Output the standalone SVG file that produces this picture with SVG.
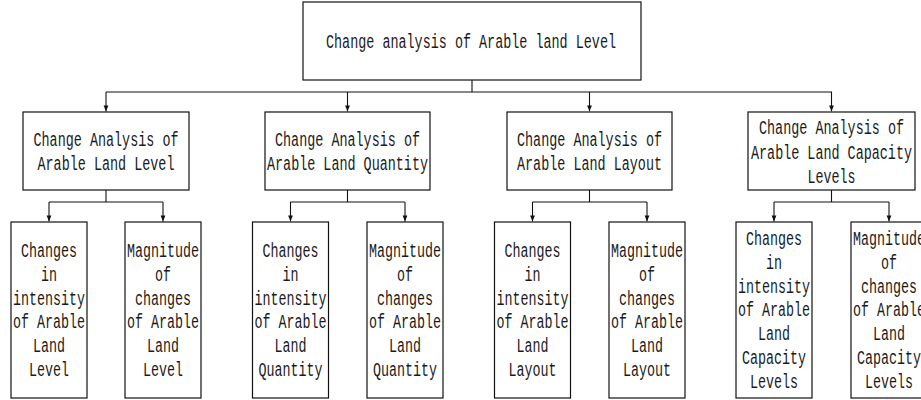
<svg xmlns="http://www.w3.org/2000/svg" width="921" height="400" viewBox="0 0 921 400">
<style>
.box{fill:#fff;stroke:#111;stroke-width:1.2}
.t{font-family:"Liberation Mono",monospace;font-size:20px;fill:#1a1a1a;text-anchor:middle}
.c{fill:none;stroke:#111;stroke-width:1.1}
.a{marker-end:url(#ah)}
</style>
<defs>
<marker id="ah" markerUnits="userSpaceOnUse" markerWidth="6" markerHeight="6" viewBox="0 0 6 6" refX="6" refY="3" orient="auto">
<path d="M0,0.6 L6,3 L0,5.4 z" fill="#111"/>
</marker>
</defs>
<rect width="921" height="400" fill="#fff"/>
<g id="connectors">
<path class="c" d="M472,80 V92 M106,92 H832"/>
<path class="c a" d="M106,92 V111.4"/>
<path class="c a" d="M347.5,92 V111.4"/>
<path class="c a" d="M589.5,92 V111.4"/>
<path class="c a" d="M831.5,92 V111.4"/>
<path class="c" d="M106,190 V202 M49,202 H163"/>
<path class="c a" d="M49,202 V221.4"/>
<path class="c a" d="M163,202 V221.4"/>
<path class="c" d="M347.5,190 V202 M290.5,202 H405"/>
<path class="c a" d="M290.5,202 V221.4"/>
<path class="c a" d="M405,202 V221.4"/>
<path class="c" d="M589.5,190 V202 M532.5,202 H647"/>
<path class="c a" d="M532.5,202 V221.4"/>
<path class="c a" d="M647,202 V221.4"/>
<path class="c" d="M831.5,190 V202 M774,202 H889"/>
<path class="c a" d="M774,202 V221.4"/>
<path class="c a" d="M889,202 V221.4"/>
</g>
<g id="root">
<rect class="box" x="303" y="2" width="338" height="78"/>
<text class="t" x="471" y="48" textLength="290" lengthAdjust="spacingAndGlyphs">Change analysis of Arable land Level</text>
</g>
<g id="level">
<rect class="box" x="23" y="112" width="166" height="78"/>
<text class="t" x="106" y="146" textLength="145" lengthAdjust="spacingAndGlyphs">Change Analysis of</text>
<text class="t" x="106" y="170" textLength="137" lengthAdjust="spacingAndGlyphs">Arable Land Level</text>
</g>
<g id="quantity">
<rect class="box" x="265" y="112" width="165" height="78"/>
<text class="t" x="347.5" y="146" textLength="145" lengthAdjust="spacingAndGlyphs">Change Analysis of</text>
<text class="t" x="347.5" y="170" textLength="161" lengthAdjust="spacingAndGlyphs">Arable Land Quantity</text>
</g>
<g id="layout">
<rect class="box" x="507" y="112" width="165" height="78"/>
<text class="t" x="589.5" y="146" textLength="145" lengthAdjust="spacingAndGlyphs">Change Analysis of</text>
<text class="t" x="589.5" y="170" textLength="145" lengthAdjust="spacingAndGlyphs">Arable Land Layout</text>
</g>
<g id="capacity">
<rect class="box" x="748" y="112" width="167" height="78"/>
<text class="t" x="831.5" y="134" textLength="145" lengthAdjust="spacingAndGlyphs">Change Analysis of</text>
<text class="t" x="831.5" y="158.5" textLength="161" lengthAdjust="spacingAndGlyphs">Arable Land Capacity</text>
<text class="t" x="831.5" y="183" textLength="48" lengthAdjust="spacingAndGlyphs">Levels</text>
</g>
<g id="intensity-level">
<rect class="box" x="11" y="222" width="76" height="176"/>
<text class="t" x="49" y="257" textLength="56" lengthAdjust="spacingAndGlyphs">Changes</text>
<text class="t" x="49" y="280.8" textLength="16" lengthAdjust="spacingAndGlyphs">in</text>
<text class="t" x="49" y="304.6" textLength="72" lengthAdjust="spacingAndGlyphs">intensity</text>
<text class="t" x="49" y="328.4" textLength="72" lengthAdjust="spacingAndGlyphs">of Arable</text>
<text class="t" x="49" y="352.2" textLength="32" lengthAdjust="spacingAndGlyphs">Land</text>
<text class="t" x="49" y="376" textLength="40" lengthAdjust="spacingAndGlyphs">Level</text>
</g>
<g id="magnitude-level">
<rect class="box" x="125" y="222" width="76" height="176"/>
<text class="t" x="163" y="257" textLength="72" lengthAdjust="spacingAndGlyphs">Magnitude</text>
<text class="t" x="163" y="280.8" textLength="16" lengthAdjust="spacingAndGlyphs">of</text>
<text class="t" x="163" y="304.6" textLength="56" lengthAdjust="spacingAndGlyphs">changes</text>
<text class="t" x="163" y="328.4" textLength="72" lengthAdjust="spacingAndGlyphs">of Arable</text>
<text class="t" x="163" y="352.2" textLength="32" lengthAdjust="spacingAndGlyphs">Land</text>
<text class="t" x="163" y="376" textLength="40" lengthAdjust="spacingAndGlyphs">Level</text>
</g>
<g id="intensity-quantity">
<rect class="box" x="252.5" y="222" width="76" height="176"/>
<text class="t" x="290.5" y="257" textLength="56" lengthAdjust="spacingAndGlyphs">Changes</text>
<text class="t" x="290.5" y="280.8" textLength="16" lengthAdjust="spacingAndGlyphs">in</text>
<text class="t" x="290.5" y="304.6" textLength="72" lengthAdjust="spacingAndGlyphs">intensity</text>
<text class="t" x="290.5" y="328.4" textLength="72" lengthAdjust="spacingAndGlyphs">of Arable</text>
<text class="t" x="290.5" y="352.2" textLength="32" lengthAdjust="spacingAndGlyphs">Land</text>
<text class="t" x="290.5" y="376" textLength="64" lengthAdjust="spacingAndGlyphs">Quantity</text>
</g>
<g id="magnitude-quantity">
<rect class="box" x="367" y="222" width="76" height="176"/>
<text class="t" x="405" y="257" textLength="72" lengthAdjust="spacingAndGlyphs">Magnitude</text>
<text class="t" x="405" y="280.8" textLength="16" lengthAdjust="spacingAndGlyphs">of</text>
<text class="t" x="405" y="304.6" textLength="56" lengthAdjust="spacingAndGlyphs">changes</text>
<text class="t" x="405" y="328.4" textLength="72" lengthAdjust="spacingAndGlyphs">of Arable</text>
<text class="t" x="405" y="352.2" textLength="32" lengthAdjust="spacingAndGlyphs">Land</text>
<text class="t" x="405" y="376" textLength="64" lengthAdjust="spacingAndGlyphs">Quantity</text>
</g>
<g id="intensity-layout">
<rect class="box" x="494.5" y="222" width="76" height="176"/>
<text class="t" x="532.5" y="257" textLength="56" lengthAdjust="spacingAndGlyphs">Changes</text>
<text class="t" x="532.5" y="280.8" textLength="16" lengthAdjust="spacingAndGlyphs">in</text>
<text class="t" x="532.5" y="304.6" textLength="72" lengthAdjust="spacingAndGlyphs">intensity</text>
<text class="t" x="532.5" y="328.4" textLength="72" lengthAdjust="spacingAndGlyphs">of Arable</text>
<text class="t" x="532.5" y="352.2" textLength="32" lengthAdjust="spacingAndGlyphs">Land</text>
<text class="t" x="532.5" y="376" textLength="48" lengthAdjust="spacingAndGlyphs">Layout</text>
</g>
<g id="magnitude-layout">
<rect class="box" x="609" y="222" width="76" height="176"/>
<text class="t" x="647" y="257" textLength="72" lengthAdjust="spacingAndGlyphs">Magnitude</text>
<text class="t" x="647" y="280.8" textLength="16" lengthAdjust="spacingAndGlyphs">of</text>
<text class="t" x="647" y="304.6" textLength="56" lengthAdjust="spacingAndGlyphs">changes</text>
<text class="t" x="647" y="328.4" textLength="72" lengthAdjust="spacingAndGlyphs">of Arable</text>
<text class="t" x="647" y="352.2" textLength="32" lengthAdjust="spacingAndGlyphs">Land</text>
<text class="t" x="647" y="376" textLength="48" lengthAdjust="spacingAndGlyphs">Layout</text>
</g>
<g id="intensity-capacity">
<rect class="box" x="736" y="222" width="76" height="176"/>
<text class="t" x="774" y="245" textLength="56" lengthAdjust="spacingAndGlyphs">Changes</text>
<text class="t" x="774" y="268.8" textLength="16" lengthAdjust="spacingAndGlyphs">in</text>
<text class="t" x="774" y="292.6" textLength="72" lengthAdjust="spacingAndGlyphs">intensity</text>
<text class="t" x="774" y="316.4" textLength="72" lengthAdjust="spacingAndGlyphs">of Arable</text>
<text class="t" x="774" y="340.2" textLength="32" lengthAdjust="spacingAndGlyphs">Land</text>
<text class="t" x="774" y="364" textLength="64" lengthAdjust="spacingAndGlyphs">Capacity</text>
<text class="t" x="774" y="387.8" textLength="48" lengthAdjust="spacingAndGlyphs">Levels</text>
</g>
<g id="magnitude-capacity">
<rect class="box" x="851" y="222" width="76" height="176"/>
<text class="t" x="889" y="245" textLength="72" lengthAdjust="spacingAndGlyphs">Magnitude</text>
<text class="t" x="889" y="268.8" textLength="16" lengthAdjust="spacingAndGlyphs">of</text>
<text class="t" x="889" y="292.6" textLength="56" lengthAdjust="spacingAndGlyphs">changes</text>
<text class="t" x="889" y="316.4" textLength="72" lengthAdjust="spacingAndGlyphs">of Arable</text>
<text class="t" x="889" y="340.2" textLength="32" lengthAdjust="spacingAndGlyphs">Land</text>
<text class="t" x="889" y="364" textLength="64" lengthAdjust="spacingAndGlyphs">Capacity</text>
<text class="t" x="889" y="387.8" textLength="48" lengthAdjust="spacingAndGlyphs">Levels</text>
</g>
</svg>
